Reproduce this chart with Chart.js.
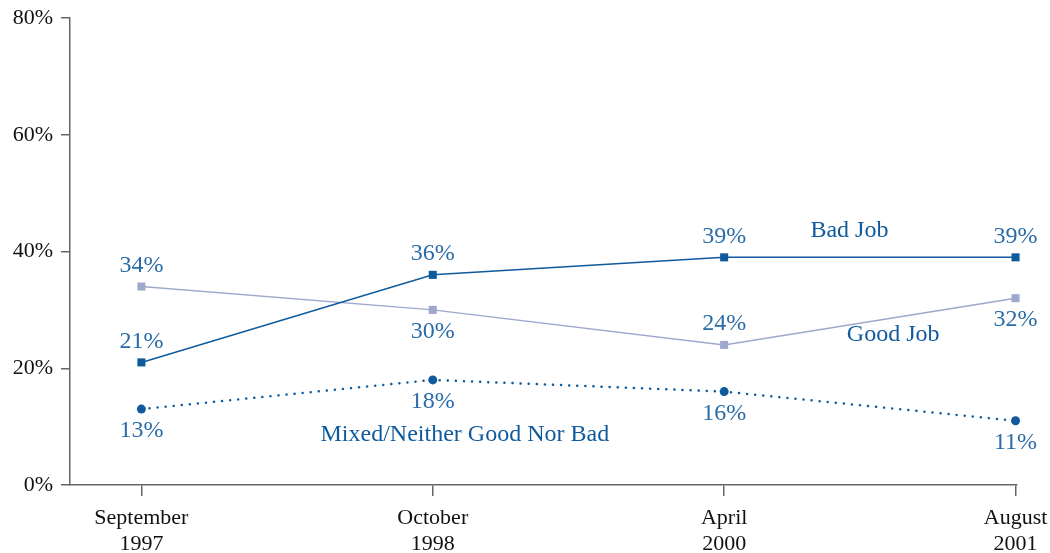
<!DOCTYPE html>
<html>
<head>
<meta charset="utf-8">
<script src="https://cdn.jsdelivr.net/npm/chart.js@4/dist/chart.umd.min.js"></script>
<style>
  html, body { margin: 0; padding: 0; background: #fff; }
  #wrap { width: 1050px; height: 553px; }
</style>
</head>
<body>
<div id="wrap"><canvas id="myChart" width="1050" height="553"></canvas></div>
<script>
// survey points and values
const categories = [['September', '1997'], ['October', '1998'], ['April', '2000'], ['August', '2001']];
const badJob = [21, 36, 39, 39];
const goodJob = [34, 30, 24, 32];
const mixed = [13, 18, 16, 11];
const yTicks = [0, 20, 40, 60, 80];

const darkBlue = '#0f5a9c';
const lightBlue = '#9da8cc';
const labelBlue = '#2a6ca8';
const serif = '"Liberation Serif", "DejaVu Serif", serif';

function pts(values) {
    return values.map((v, i) => ({ x: i, y: v }));
}

// value labels: 'above' or 'below' the point
const labelSides = [
    ['above', 'above', 'above', 'above'],
    ['above', 'below', 'above', 'below'],
    ['below', 'below', 'below', 'below']
];

const labelPlugin = {
    id: 'valueLabels',
    afterDatasetsDraw(chart) {
        const ctx = chart.ctx;
        ctx.save();
        ctx.font = '24px ' + serif;
        ctx.fillStyle = labelBlue;
        ctx.textAlign = 'center';
        chart.data.datasets.forEach((ds, di) => {
            const meta = chart.getDatasetMeta(di);
            meta.data.forEach((el, i) => {
                const side = labelSides[di][i];
                if (side === 'above') {
                    ctx.textBaseline = 'bottom';
                    ctx.fillText(ds.data[i].y + '%', el.x, el.y - 9);
                } else {
                    ctx.textBaseline = 'top';
                    ctx.fillText(ds.data[i].y + '%', el.x, el.y + 10);
                }
            });
        });
        // series names
        const xs = chart.scales.x, ys = chart.scales.y;
        ctx.textBaseline = 'middle';
        ctx.fillStyle = darkBlue;
        ctx.font = '24px ' + serif;
        ctx.fillText('Bad Job', xs.getPixelForValue(2.43), ys.getPixelForValue(43.5));
        ctx.fillText('Good Job', xs.getPixelForValue(2.58), ys.getPixelForValue(25.7));
        ctx.fillText('Mixed/Neither Good Nor Bad', xs.getPixelForValue(1.11), ys.getPixelForValue(8.7));
        ctx.restore();
    }
};

document.addEventListener('DOMContentLoaded', function () {
    const ctx = document.getElementById('myChart').getContext('2d');
    new Chart(ctx, {
        type: 'line',
        data: {
            datasets: [{
                label: 'Bad Job',
                data: pts(badJob),
                borderColor: darkBlue,
                backgroundColor: darkBlue,
                borderWidth: 1.5,
                pointStyle: 'rect',
                pointRadius: 5.7,
                pointBorderWidth: 0,
                tension: 0,
                clip: false
            }, {
                label: 'Good Job',
                data: pts(goodJob),
                borderColor: lightBlue,
                backgroundColor: lightBlue,
                borderWidth: 1.5,
                pointStyle: 'rect',
                pointRadius: 5.7,
                pointBorderWidth: 0,
                tension: 0,
                clip: false
            }, {
                label: 'Mixed/Neither Good Nor Bad',
                data: pts(mixed),
                borderColor: darkBlue,
                backgroundColor: darkBlue,
                borderWidth: 2.5,
                borderDash: [0.1, 8],
                borderCapStyle: 'round',
                pointStyle: 'circle',
                pointRadius: 4.5,
                pointBorderWidth: 0,
                tension: 0,
                clip: false
            }]
        },
        options: {
            responsive: false,
            animation: false,
            layout: { padding: { top: 18, right: 33, left: 0, bottom: 0 } },
            plugins: { legend: { display: false }, tooltip: { enabled: false } },
            scales: {
                x: {
                    type: 'linear',
                    min: -0.245,
                    max: 3.005,
                    afterBuildTicks: scale => {
                        scale.ticks = categories.map((c, i) => ({ value: i }));
                    },
                    afterFit: scale => {
                        scale.height = 68;
                        scale.paddingLeft = 0;
                        scale.paddingRight = 0;
                    },
                    grid: { drawOnChartArea: false, drawTicks: true, tickLength: 11, color: '#666', lineWidth: 1.5 },
                    border: { color: '#666', width: 1.5 },
                    ticks: {
                        color: '#111',
                        font: { family: serif, size: 22, lineHeight: 1.15 },
                        padding: 10,
                        maxRotation: 0,
                        autoSkip: false,
                        callback: v => categories[v]
                    }
                },
                y: {
                    min: 0,
                    max: 80,
                    afterBuildTicks: scale => {
                        scale.ticks = yTicks.map(v => ({ value: v }));
                    },
                    afterFit: scale => {
                        scale.width = 70;
                        scale.paddingTop = 0;
                        scale.paddingBottom = 0;
                    },
                    grid: { drawOnChartArea: false, drawTicks: true, tickLength: 9, color: '#666', lineWidth: 1.5 },
                    border: { color: '#666', width: 1.5 },
                    ticks: {
                        color: '#111',
                        font: { family: serif, size: 22 },
                        padding: 8,
                        callback: v => v + '%'
                    }
                }
            }
        },
        plugins: [labelPlugin]
    });
});
</script>
</body>
</html>
